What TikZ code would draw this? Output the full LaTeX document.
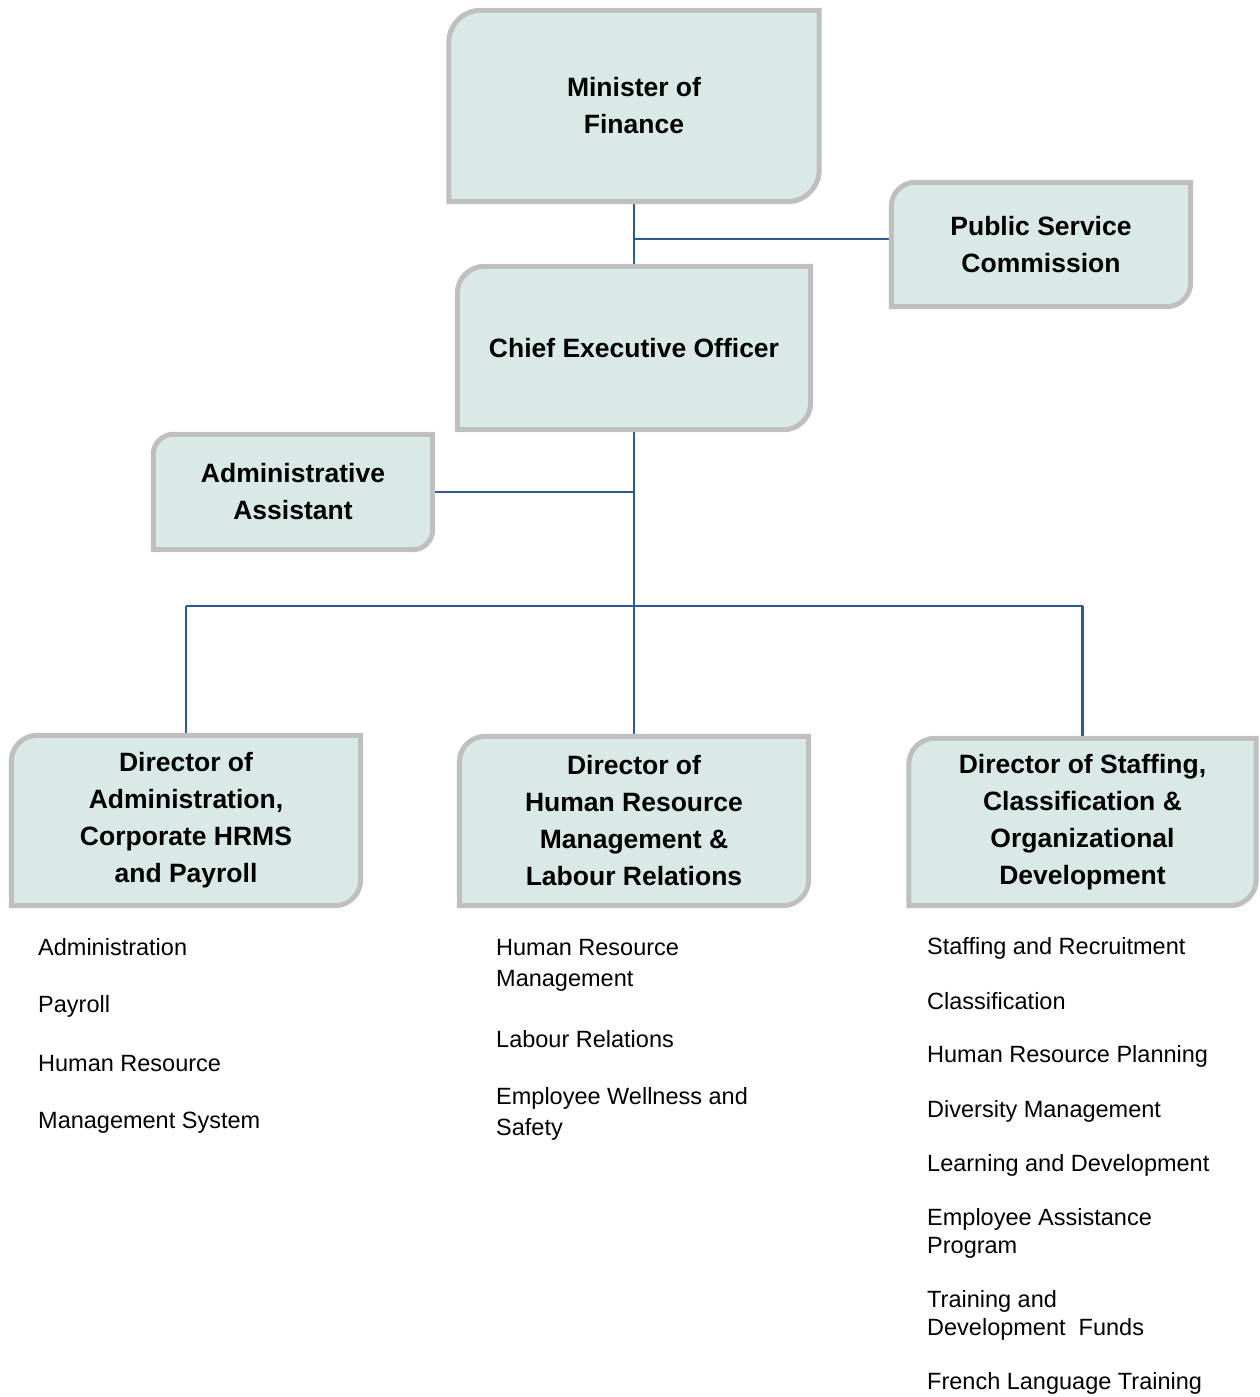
\documentclass[tikz,border=0pt]{standalone}
\usepackage{fontspec}
\setmainfont{Liberation Sans}
\usetikzlibrary{calc,backgrounds}
\definecolor{boxfill}{RGB}{217,234,230}
\definecolor{boxline}{RGB}{191,191,191}
\definecolor{conn}{RGB}{47,90,145}
\tikzset{
  orgbox/.style={rectangle, inner sep=0pt, align=center, font=\fontsize{26.5}{37}\selectfont\bfseries},
  border/.style={draw=boxline, fill=boxfill, line width=5pt},
  link/.style={draw=conn, line width=2.8pt},
  item/.style={anchor=west, align=left, inner sep=0pt, font=\fontsize{23.5}{31}\selectfont},
  itemb/.style={anchor=west, align=left, inner sep=0pt, font=\fontsize{23.5}{28}\selectfont},
}
% box outline: rounded top-left and bottom-right corners (circular arcs via Bezier)
\newcommand{\orgshape}[2]{%
  \draw[border] (#1.south west) -- ($(#1.north west)+(0,#2)$)
    .. controls ($(#1.north west)+(0,0.448*#2)$) and ($(#1.north west)+(0.448*#2,0)$) .. ($(#1.north west)+(#2,0)$)
    -- (#1.north east) -- ($(#1.south east)+(0,-#2)$)
    .. controls ($(#1.south east)+(0,-0.448*#2)$) and ($(#1.south east)+(-0.448*#2,0)$) .. ($(#1.south east)+(-#2,0)$) -- cycle;}
\begin{document}
\begin{tikzpicture}[x=1pt,y=-1pt]
\useasboundingbox (0,0) rectangle (1259,1397);

\node[orgbox, minimum width=370, minimum height=191] (mof) at (634,106) {Minister of\\Finance};
\node[orgbox, minimum width=299, minimum height=124] (psc) at (1041,244.5) {Public Service\\Commission};
\node[orgbox, minimum width=353, minimum height=163] (ceo) at (634,348) {Chief Executive Officer};
\node[orgbox, minimum width=279, minimum height=115] (aa) at (293,492) {Administrative\\Assistant};
\node[orgbox, minimum width=349, minimum height=170] (d1) at (186,820.5) {Director of\\Administration,\\Corporate HRMS\\and Payroll};
\node[orgbox, minimum width=349, minimum height=169] (d2) at (634,821) {Director of\\Human Resource\\Management \&\\Labour Relations};
\node[orgbox, minimum width=347, minimum height=167] (d3) at (1082.5,822) {Director of Staffing,\\Classification \&\\Organizational\\Development};

\coordinate (j1) at (634,239);
\coordinate (j2) at (634,492);
\coordinate (j3) at (634,606);

\begin{scope}[on background layer]
  \fill[white] (0,0) rectangle (1259,1397);
  \draw[link] (mof.south) -- (ceo.north);
  \draw[link] (j1) -- (j1 -| psc.west);
  \draw[link] (ceo.south) -- (j3);
  \draw[link] (j2) -- (j2 -| aa.east);
  \draw[link] (j3 -| d1.north) -- (j3 -| d3.north);
  \draw[link] (j3 -| d1.north) -- (d1.north);
  \draw[link] (j3) -- (d2.north);
  \draw[link] (j3 -| d3.north) -- (d3.north);
  \orgshape{mof}{32}
  \orgshape{psc}{24}
  \orgshape{ceo}{27}
  \orgshape{aa}{20}
  \orgshape{d1}{26}
  \orgshape{d2}{26}
  \orgshape{d3}{26}
\end{scope}

% left column
\node[item] (l1) at (38,947) {Administration};
\node[item] (l2) at (38,1006) {Payroll};
\node[item] (l3) at (38,1064) {Human Resource};
\node[item] (l4) at (38,1123) {Management System};
% middle column
\node[item] (m1) at (496,965) {Human Resource\\Management};
\node[item] (m2) at (496,1039) {Labour Relations};
\node[item] (m3) at (496,1114) {Employee Wellness and\\Safety};
% right column
\node[itemb] (r1) at (927,948) {Staffing and Recruitment};
\node[itemb] (r2) at (927,1001) {Classification};
\node[itemb] (r3) at (927,1056) {Human Resource Planning};
\node[itemb] (r4) at (927,1111) {Diversity Management};
\node[itemb] (r5) at (927,1165) {Learning and Development};
\node[itemb] (r6) at (927,1233) {Employee Assistance\\Program};
\node[itemb] (r7) at (927,1315) {Training and\\Development~~Funds};
\node[itemb] (r8) at (927,1383) {French Language Training};
\end{tikzpicture}
\end{document}
